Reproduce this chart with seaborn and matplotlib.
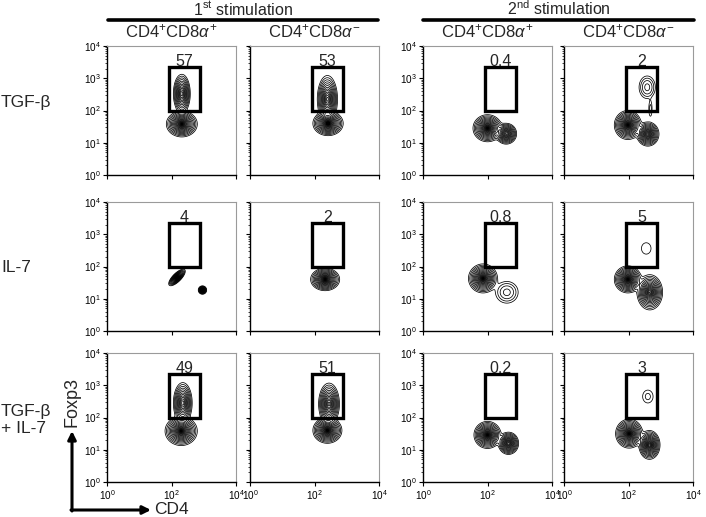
import numpy as np
import matplotlib
matplotlib.use("Agg")
import matplotlib.pyplot as plt
import seaborn as sns
from matplotlib.patches import Rectangle, FancyArrowPatch
from matplotlib.lines import Line2D

# ---------------------------------------
# Data
# ---------------------------------------

stim_labels = [r"1$^{\mathrm{st}}$ stimulation", r"2$^{\mathrm{nd}}$ stimulation"]
col_labels = [r"CD4$^{+}$CD8$\alpha^{+}$", r"CD4$^{+}$CD8$\alpha^{-}$",
              r"CD4$^{+}$CD8$\alpha^{+}$", r"CD4$^{+}$CD8$\alpha^{-}$"]
row_labels = ["TGF-β", "IL-7", "TGF-β\n+ IL-7"]

gate_pct = [["57", "53", "0.4", "2"],
            ["4", "2", "0.8", "5"],
            ["49", "51", "0.2", "3"]]

# gate on CD4 (x) / Foxp3 (y)
gate_x = [85, 750]
gate_y = [100, 2200]

# populations: (log10 CD4, log10 Foxp3, x radius, y radius, angle, weight)
pop_tgfb_s1_pos = [(2.32, 1.58, 0.48, 0.40, 0, 1.0), (2.32, 2.52, 0.27, 0.62, 0, 0.8)]
pop_tgfb_s1_neg = [(2.42, 1.60, 0.47, 0.38, 0, 1.0), (2.40, 2.35, 0.32, 0.75, 0, 0.85)]
pop_tgfb_s2_pos = [(2.00, 1.45, 0.45, 0.42, 0, 1.0), (2.58, 1.28, 0.33, 0.33, 0, 0.85)]
pop_tgfb_s2_neg = [(1.98, 1.55, 0.42, 0.45, 0, 1.0), (2.60, 1.27, 0.35, 0.38, 0, 0.9),
                   (2.58, 2.72, 0.36, 0.50, 0, 0.13), (2.68, 2.05, 0.10, 0.45, 0, 0.05)]
pop_il7_s1_pos = [(2.17, 1.66, 0.34, 0.13, 45, 1.0), (2.96, 1.27, 0.13, 0.13, 0, 1.0)]
pop_il7_s1_neg = [(2.33, 1.60, 0.45, 0.35, 0, 1.0)]
pop_il7_s2_pos = [(1.86, 1.63, 0.45, 0.45, 0, 1.0), (2.60, 1.20, 0.50, 0.48, 0, 0.13)]
pop_il7_s2_neg = [(1.98, 1.60, 0.42, 0.42, 0, 1.0), (2.66, 1.20, 0.40, 0.55, 0, 0.95),
                  (2.55, 2.56, 0.42, 0.50, 0, 0.03)]
pop_both_s1_pos = [(2.30, 1.58, 0.50, 0.45, 0, 1.0), (2.35, 2.45, 0.30, 0.65, 0, 0.8)]
pop_both_s1_neg = [(2.40, 1.60, 0.45, 0.40, 0, 1.0), (2.45, 2.42, 0.33, 0.66, 0, 0.85)]
pop_both_s2_pos = [(2.00, 1.46, 0.42, 0.42, 0, 1.0), (2.65, 1.20, 0.32, 0.35, 0, 0.9)]
pop_both_s2_neg = [(2.02, 1.50, 0.42, 0.45, 0, 1.0), (2.65, 1.15, 0.33, 0.45, 0, 0.95),
                   (2.60, 2.65, 0.34, 0.42, 0, 0.045)]

populations = [
    [pop_tgfb_s1_pos, pop_tgfb_s1_neg, pop_tgfb_s2_pos, pop_tgfb_s2_neg],
    [pop_il7_s1_pos, pop_il7_s1_neg, pop_il7_s2_pos, pop_il7_s2_neg],
    [pop_both_s1_pos, pop_both_s1_neg, pop_both_s2_pos, pop_both_s2_neg],
]

# ---------------------------------------
# Style
# ---------------------------------------

sns.set_style("ticks")
plt.rcParams["font.family"] = ["Liberation Sans", "DejaVu Sans"]
plt.rcParams["mathtext.fontset"] = "custom"
plt.rcParams["mathtext.rm"] = "Liberation Sans"
plt.rcParams["mathtext.it"] = "Liberation Sans:italic"
plt.rcParams["mathtext.bf"] = "Liberation Sans:bold"

W, H = 706, 517
fig = plt.figure(figsize=(W / 100, H / 100), dpi=100)


def fx(px):
    return px / W


def fy(py):
    return 1 - py / H


panel_left = [107, 250, 423, 564]
panel_top = [46, 202, 353]
panel_size = 129

# contour grid in log space
lg = np.linspace(0, 4, 500)
LX, LY = np.meshgrid(lg, lg)
n_levels = 24
levels = np.sort(np.exp(-4 * ((np.arange(1, n_levels + 1) / n_levels) ** 2.2) ** 2))

for r in range(3):
    for c in range(4):
        ax = fig.add_axes([fx(panel_left[c]), fy(panel_top[r] + panel_size),
                           panel_size / W, panel_size / H])

        Z = np.zeros_like(LX)
        for cx, cy, rx, ry, ang, w in populations[r][c]:
            t = np.deg2rad(ang)
            dx, dy = LX - cx, LY - cy
            u = dx * np.cos(t) + dy * np.sin(t)
            v = -dx * np.sin(t) + dy * np.cos(t)
            Z += w * np.exp(-4 * ((u / rx) ** 2 + (v / ry) ** 2))

        ax.contour(10 ** LX, 10 ** LY, Z, levels=levels,
                   colors="black", linewidths=0.55)

        ax.add_patch(Rectangle((gate_x[0], gate_y[0]),
                               gate_x[1] - gate_x[0], gate_y[1] - gate_y[0],
                               fill=False, lw=2.4, ec="black", zorder=4))
        ax.text(np.sqrt(gate_x[0] * gate_x[1]), 2350, gate_pct[r][c],
                ha="center", va="baseline", fontsize=11.5)

        ax.set_xscale("log")
        ax.set_yscale("log")
        ax.set_xlim(1, 1e4)
        ax.set_ylim(1, 1e4)

        for side in ["top", "right"]:
            ax.spines[side].set_color("#9a9a9a")
            ax.spines[side].set_linewidth(0.8)
        for side in ["left", "bottom"]:
            ax.spines[side].set_color("black")
            ax.spines[side].set_linewidth(1.0)

        ax.tick_params(which="major", direction="out", length=3, width=0.8,
                       labelsize=7.2, pad=1.2, colors="black")
        ax.tick_params(which="minor", direction="out", length=1.5, width=0.6)
        if r < 2:
            ax.tick_params(axis="x", labelbottom=False)
        if c % 2 == 1:
            ax.tick_params(axis="y", labelleft=False)

# ---------------------------------------
# Headers and labels
# ---------------------------------------

stim_spans = [(108, 378), (423, 694)]
for label, (x0, x1) in zip(stim_labels, stim_spans):
    fig.add_artist(Line2D([fx(x0), fx(x1)], [fy(19.5), fy(19.5)], lw=2.6,
                          color="black", transform=fig.transFigure))
    fig.text(fx((x0 + x1) / 2), fy(15), label, ha="center", va="baseline",
             fontsize=11.5)

for c, label in enumerate(col_labels):
    fig.text(fx(panel_left[c] + panel_size / 2), fy(37), label,
             ha="center", va="baseline", fontsize=12)

row_label_y = [102, 267, 420]
for label, py in zip(row_labels, row_label_y):
    fig.text(fx(1), fy(py), label, ha="left", va="center", fontsize=12.5,
             linespacing=1.1)

# axis arrows
fig.add_artist(FancyArrowPatch((fx(71), fy(510)), (fx(151), fy(510)),
                               arrowstyle="-|>", mutation_scale=12, lw=2.2,
                               color="black", shrinkA=0, shrinkB=0,
                               transform=fig.transFigure))
fig.add_artist(FancyArrowPatch((fx(72), fy(511)), (fx(72), fy(431)),
                               arrowstyle="-|>", mutation_scale=12, lw=2.2,
                               color="black", shrinkA=0, shrinkB=0,
                               transform=fig.transFigure))
fig.text(fx(154), fy(510), "CD4", ha="left", va="center", fontsize=12.5)
fig.text(fx(72), fy(402), "Foxp3", ha="center", va="center", fontsize=13,
         rotation=90)

fig.savefig("out.png", dpi=100)
